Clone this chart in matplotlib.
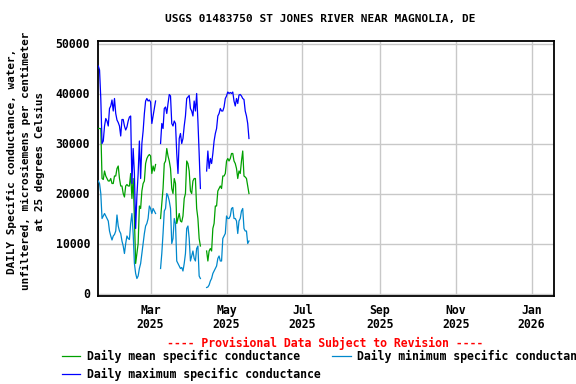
import numpy as np
import pandas as pd
import matplotlib
matplotlib.use("Agg")
import matplotlib.pyplot as plt

# ---------------- data ----------------
start_date = "2025-01-18"
N = None
daily_max = [45500, 44700, 39000, 30000, 30500, 33500, 35000, 34500, 33500, 37000,
             37500, 38700, 36500, 39000, 36000, 34700, 34200, 33500, 31500, 34800,
             34800, 33500, 32700, 33300, 34500, 35300, 35500, 22000, 29000, 24000,
             13000, 19500, 24000, 30500, 23000, 30000, 32500, 36000, 38500, 39000,
             38500, 38700, 38300, 34000, 35500, 37000, 38500,
             N, N, N,
             30000, 34000, 33000, 37000, 37300, 36000, 38000, 39800, 39500, 34000,
             33500, 34500, 34000, 28000, 24000, 31000, 32000, 30000, 31000, 33500,
             35500, 39000, 39300, 39600, 37000, 36500, 35500, 38500, 36500, 40000,
             34500, 28000, 21000,
             N, N, N, N,
             24500, 28500, 25000, 27000, 26000, 28000, 30500, 32000, 33000, 35500,
             36000, 37000, 36500, 36500, 37300, 39000, 39500, 40300, 40000, 40200,
             40000, 40300, 38500, 37500, 39000, 38000, 39700, 39800, 39500, 39000,
             38800, 36500, 35500, 34000, 31000]
daily_mean = [33000, 33000, 33000, 23000, 22800, 24500, 23500, 23000, 22500, 22500,
              23000, 22000, 22000, 23500, 23500, 25000, 25500, 23000, 21500, 21500,
              20000, 19300, 21500, 21800, 21500, 21500, 24000, 19000, 23000, 15000,
              6000, 8000, 10000, 17500, 17000, 20500, 22000, 22500, 26000, 27000,
              27500, 27800, 27500, 24000, 25500, 24500, 25800,
              N, N, N,
              15000, 18000, 21000, 26000, 26500, 29000, 27500, 26500, 25000, 21000,
              20000, 23000, 22000, 14000, 15000, 16000, 14500, 14300, 15500, 19000,
              20000, 26500, 26000, 24500, 20500, 20000, 22500, 23000, 23000, 17000,
              15000, 11000, 9500,
              N, N, N, N,
              8500, 6500, 8500, 9000, 8500, 13000, 14000, 17500, 17500, 20500,
              21000, 21500, 21000, 23500, 23500, 24000, 26500, 27000, 26500, 27000,
              28000, 28000, 26500, 26000, 25000, 23000, 24500, 24000, 26500, 28500,
              23500, 23300, 23000, 21500, 20000]
daily_min = [22500, 22000, 20000, 15000, 15500, 16000, 15500, 15000, 14500, 12500,
             11500, 10700, 11500, 11800, 12500, 15700, 13500, 12500, 12000, 10500,
             9500, 8000, 10000, 11500, 11000, 10800, 14000, 16000, 12000, 6000,
             4000, 3000, 3500, 5000, 6000, 8000, 10000, 12000, 13500, 14000,
             15000, 17500, 17000, 16000, 17000, 16500, 16000,
             N, N, N,
             5000, 8000, 12000, 16500, 17000, 20000, 19500, 18500, 17000, 10000,
             11000, 15000, 14000, 6500, 6000, 5500, 5000, 5200, 4500, 6000,
             8000, 13000, 13500, 11000, 6500, 7500, 8500, 7000, 6500, 9000,
             9500, 3500, 3000,
             N, N, N, N,
             1200, 1300, 1700, 2500, 3000, 4000, 4500, 5000, 5500, 7000,
             7500, 6500, 6500, 11000, 11500, 12000, 15500, 15000, 15000, 15500,
             17000, 17200, 15000, 15000, 14500, 12000, 14500, 15000, 16500, 17000,
             13000, 12500, 12500, 10000, 10500]

tick_dates = ["2025-03-01", "2025-05-01", "2025-07-01", "2025-09-01", "2025-11-01", "2026-01-01"]
tick_labels = ["Mar\n2025", "May\n2025", "Jul\n2025", "Sep\n2025", "Nov\n2025", "Jan\n2026"]
y_ticks = [0, 10000, 20000, 30000, 40000, 50000]

title = "USGS 01483750 ST JONES RIVER NEAR MAGNOLIA, DE"
ylabel = "DAILY Specific conductance, water,\nunfiltered, microsiemens per centimeter\nat 25 degrees Celsius"
label_mean = "Daily mean specific conductance"
label_min = "Daily minimum specific conductance"
label_max = "Daily maximum specific conductance"

# ---------------- plot ----------------
dates = pd.date_range(start_date, periods=len(daily_max), freq="D")
to_arr = lambda v: np.array([np.nan if x is None else x for x in v], dtype=float)

W, H = 576, 384
fig = plt.figure(figsize=(W / 100, H / 100), dpi=100)
FONT = "DejaVu Sans Mono"
fs = 8.3

ax = fig.add_axes([98.3 / W, 1 - 296 / H, (554 - 98.3) / W, (296 - 41) / H])

c_mean, c_min, c_max = "#00a000", "#0088cc", "#0000ff"
lw = 0.9
l_mean, = ax.plot(dates, to_arr(daily_mean), color=c_mean, lw=lw, label=label_mean, zorder=3)
l_min, = ax.plot(dates, to_arr(daily_min), color=c_min, lw=lw, label=label_min, zorder=3)
l_max, = ax.plot(dates, to_arr(daily_max), color=c_max, lw=lw, label=label_max, zorder=3)

ax.set_xlim(pd.Timestamp("2025-01-18"), pd.Timestamp("2026-01-19"))
ax.set_ylim(-500, 50500)
ax.set_xticks(pd.to_datetime(tick_dates))
ax.set_xticklabels(tick_labels, fontfamily=FONT, fontweight="bold", fontsize=fs, linespacing=1.1)
ax.set_yticks(y_ticks)
ax.set_yticklabels([str(v) for v in y_ticks], fontfamily=FONT, fontweight="bold", fontsize=fs)
ax.tick_params(axis="both", length=0, pad=6)
ax.tick_params(axis="y", pad=6)
ax.grid(True, color="#c8c8c8", lw=1.0, zorder=0)
for s in ax.spines.values():
    s.set_linewidth(1.3)
    s.set_color("black")

fig.text(320 / W, 1 - 19 / H, title, ha="center", va="center",
         fontfamily=FONT, fontweight="bold", fontsize=8.0)
fig.text(26 / W, 1 - 161 / H, ylabel, ha="center", va="center", rotation=90,
         multialignment="center", fontfamily=FONT, fontweight="bold", fontsize=7.9,
         linespacing=1.45)
fig.text(325 / W, 1 - 343 / H, "---- Provisional Data Subject to Revision ----",
         ha="center", va="center", color="red", fontfamily=FONT, fontweight="bold", fontsize=fs)

leg = fig.legend(handles=[l_mean, l_max, l_min], labels=[label_mean, label_max, label_min],
                 ncol=2, loc="upper left", bbox_to_anchor=(62 / W, 1 - 350 / H),
                 frameon=False, prop={"family": FONT, "weight": "bold", "size": fs},
                 handlelength=1.6, handletextpad=0.55, columnspacing=1.0,
                 labelspacing=0.38, borderpad=0, borderaxespad=0)

fig.savefig("out.png", dpi=100)
